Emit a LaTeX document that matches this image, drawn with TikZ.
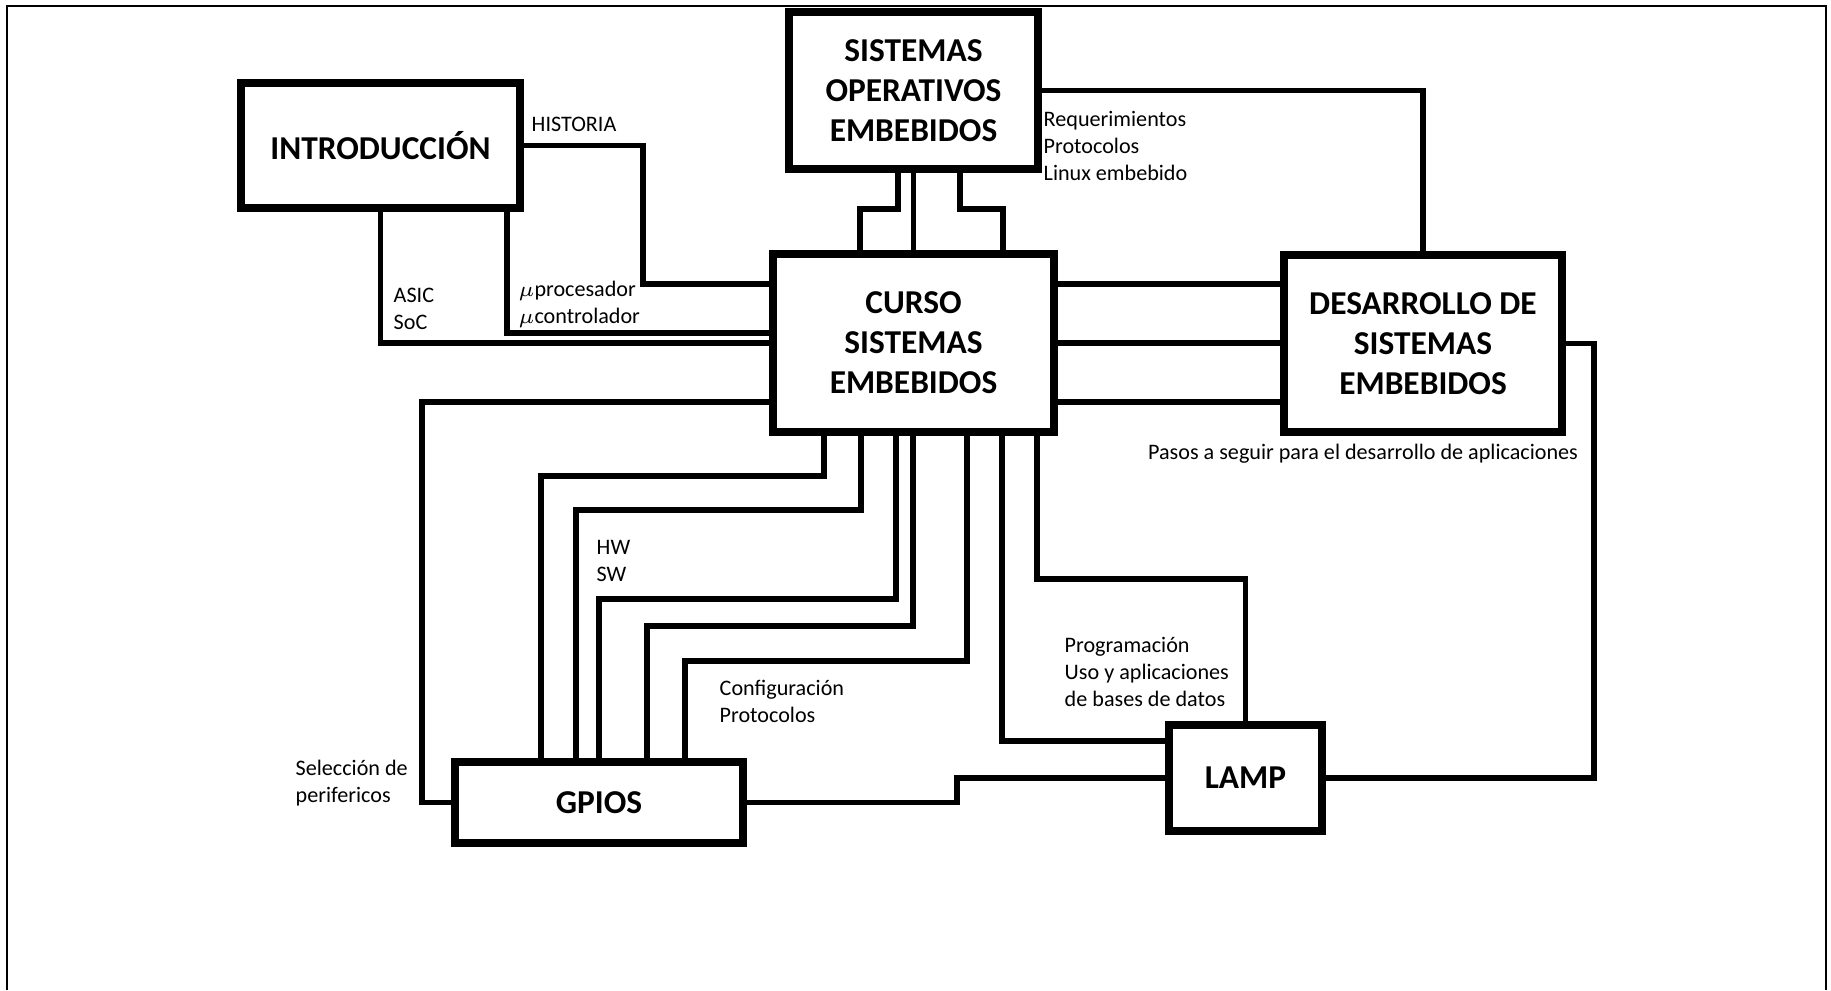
\documentclass[tikz,border=0pt]{standalone}
\usepackage{fontspec}
\setmainfont{Carlito}

\begin{document}
\begin{tikzpicture}[
    box/.style={draw, line width=2.4pt, inner sep=0pt, align=center,
      font=\fontsize{9.5}{11.4}\selectfont\bfseries},
    link/.style={line width=1.5pt},
    lbl/.style={inner sep=0pt, anchor=west, align=left,
      font=\fontsize{6.3}{7.7}\selectfont}]
        \useasboundingbox (0,0) rectangle (18.31,9.90);
        \draw[line width=0.6pt] (0.07,0) -- (0.07,9.84) -- (18.26,9.84) -- (18.26,0);

        \node[box, minimum width=2.79cm, minimum height=1.25cm] (intro) at (3.805,8.445) {INTRODUCCIÓN};
        \node[box, minimum width=2.49cm, minimum height=1.57cm] (so) at (9.135,8.995) {SISTEMAS\\OPERATIVOS\\EMBEBIDOS};
        \node[box, minimum width=2.81cm, minimum height=1.78cm] (curso) at (9.135,6.47) {CURSO\\SISTEMAS\\EMBEBIDOS};
        \node[box, minimum width=2.78cm, minimum height=1.77cm] (des) at (14.23,6.465) {DESARROLLO DE\\SISTEMAS\\EMBEBIDOS};
        \node[box, minimum width=2.88cm, minimum height=0.81cm] (gpios) at (5.99,1.875) {GPIOS};
        \node[box, minimum width=1.53cm, minimum height=1.06cm] (lamp) at (12.455,2.12) {LAMP};

        \draw[link] (intro.east) -| (6.43,7.06) -- (curso.west |- 0,7.06);
        \draw[link] (intro.south -| 5.07,0) |- (curso.west |- 0,6.57);
        \draw[link] (intro.south) |- (curso.west);

        \draw[link] (so.south -| 8.98,0) |- (8.60,7.81) -- (curso.north -| 8.60,0);
        \draw[link] (so.south) -- (curso.north);
        \draw[link] (so.south -| 9.60,0) |- (10.03,7.81) -- (curso.north -| 10.03,0);
        \draw[link] (so.east) -| (des.north);

        \foreach \y in {7.06,6.47,5.88}
          \draw[link] (curso.east |- 0,\y) -- (des.west |- 0,\y);
        \draw[link] (des.east) -| (lamp.east -| 15.94,0) -- (lamp.east);

        \draw[link] (curso.west |- 0,5.88) -| (gpios.west -| 4.22,0) -- (gpios.west);
        \foreach \xa/\ym/\xb in {8.24/5.14/5.41, 8.61/4.80/5.76, 8.96/3.91/5.99, 9.13/3.64/6.47, 9.67/3.29/6.85}
          \draw[link] (curso.south -| \xa,0) |- (\xb,\ym) -- (gpios.north -| \xb,0);
        \draw[link] (gpios.east) -| (lamp.west -| 9.57,0) -- (lamp.west);

        \draw[link] (curso.south -| 10.02,0) |- (lamp.west |- 0,2.49);
        \draw[link] (curso.south -| 10.37,0) -- (10.37,4.11) -| (lamp.north);

        \node[lbl] (historia) at (5.31,8.66) {HISTORIA};
        \node[lbl] (asic) at (3.93,6.815) {ASIC\\SoC};
        \node[lbl] (micro) at (5.18,6.855) {$\mu$procesador\\$\mu$controlador};
        \node[lbl] (req) at (10.43,8.44) {Requerimientos\\Protocolos\\Linux embebido};
        \node[lbl, anchor=center] (pasos) at (13.63,5.36) {Pasos a seguir para el desarrollo de aplicaciones};
        \node[lbl] (hwsw) at (5.96,4.29) {HW\\SW};
        \node[lbl] (config) at (7.19,2.885) {Configuración\\Protocolos};
        \node[lbl] (prog) at (10.64,3.18) {Programación\\Uso y aplicaciones\\de bases de datos};
        \node[lbl] (selec) at (2.95,2.07) {Selección de\\perifericos};
\end{tikzpicture}
\end{document}
